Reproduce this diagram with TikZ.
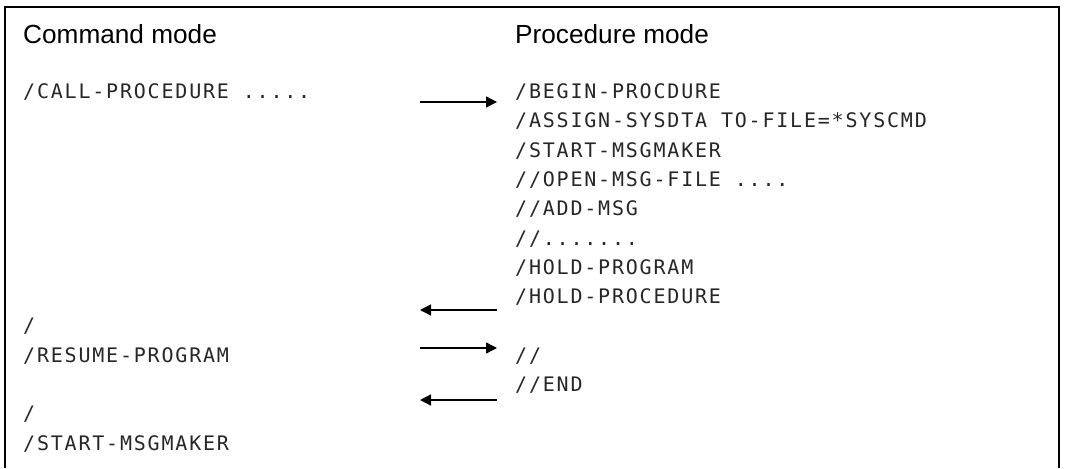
\documentclass[tikz,border=0pt]{standalone}
\usepackage{fontspec}
\setmainfont{Liberation Sans}
\newfontfamily\codefont[LetterSpace=9]{DejaVu Sans Mono}
\usetikzlibrary{arrows.meta}
\begin{document}
\begin{tikzpicture}[x=1pt,y=-1pt,
  head/.style={font=\fontsize{26.2}{30}\selectfont, anchor=base west, inner sep=0pt},
  code/.style={font={\codefont\fontsize{20}{24}\selectfont}, text=black!85, anchor=base west, inner sep=0pt},
  flow/.style={line width=1.3pt, -{Triangle[length=11pt,width=11pt]}}]
\useasboundingbox (0,0) rectangle (1067,468);
% open frame: left, top and right sides
\draw[line width=1.6pt] (5,468) -- (5,7) -- (1059,7) -- (1059,468);

% column headings
\node[head] (hcmd)  at (23,43.5)  {Command mode};
\node[head] (hproc) at (515,43.5) {Procedure mode};

% command mode column
\node[code] (c0)  at (23,98.5)  {/CALL-PROCEDURE .....};
\node[code] (c8)  at (23,332.9) {/};
\node[code] (c9)  at (23,362.2) {/RESUME-PROGRAM};
\node[code] (c11) at (23,420.8) {/};
\node[code] (c12) at (23,450.1) {/START-MSGMAKER};

% procedure mode column
\node[code] (p0)  at (515,98.5)  {/BEGIN-PROCDURE};
\node[code] (p1)  at (515,127.8) {/ASSIGN-SYSDTA TO-FILE=*SYSCMD};
\node[code] (p2)  at (515,157.1) {/START-MSGMAKER};
\node[code] (p3)  at (515,186.4) {//OPEN-MSG-FILE ....};
\node[code] (p4)  at (515,215.7) {//ADD-MSG};
\node[code] (p5)  at (515,245.0) {//.......};
\node[code] (p6)  at (515,274.3) {/HOLD-PROGRAM};
\node[code] (p7)  at (515,303.6) {/HOLD-PROCEDURE};
\node[code] (p9)  at (515,362.2) {//};
\node[code] (p10) at (515,391.5) {//END};

% transfers of control between the two modes
\coordinate (a1s) at (420,102);  \coordinate (a1e) at (497,102);
\coordinate (a2s) at (497,310);  \coordinate (a2e) at (420,310);
\coordinate (a3s) at (420,348);  \coordinate (a3e) at (497,348);
\coordinate (a4s) at (497,400);  \coordinate (a4e) at (420,400);
\draw[flow] (a1s) -- (a1e);
\draw[flow] (a2s) -- (a2e);
\draw[flow] (a3s) -- (a3e);
\draw[flow] (a4s) -- (a4e);
\end{tikzpicture}
\end{document}
